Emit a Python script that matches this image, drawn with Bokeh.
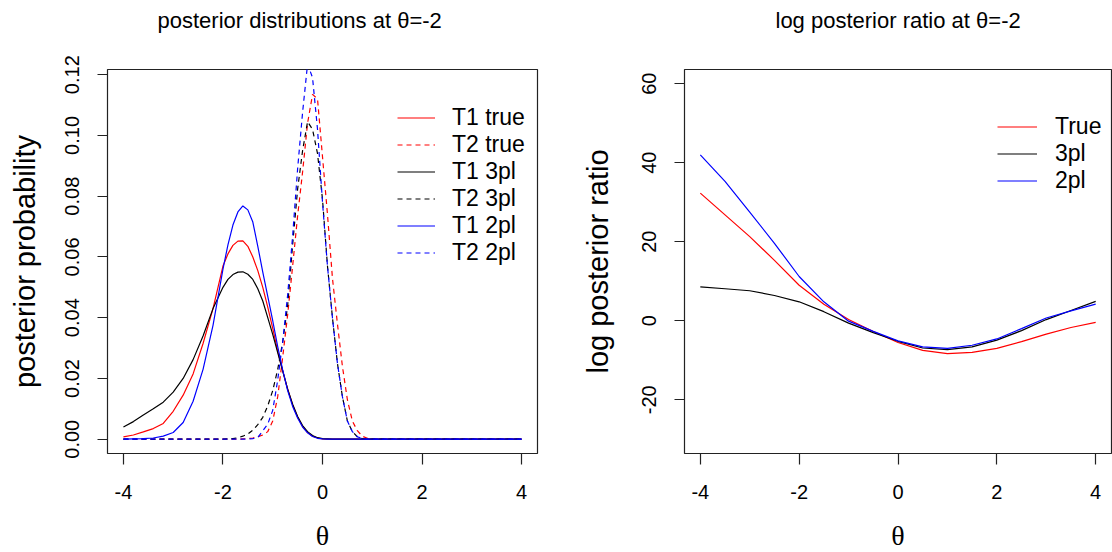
from bokeh.plotting import figure
from bokeh.layouts import row
from bokeh.models import FixedTicker, Legend, LegendItem, Range1d, Title
from bokeh.embed import file_html
from bokeh.resources import INLINE

# ---------------- data: posterior distributions ----------------
theta_post = [-4.0, -3.8, -3.6, -3.4, -3.2, -3.0, -2.8, -2.6, -2.4, -2.2,
              -2.0, -1.9, -1.8, -1.7, -1.6, -1.5, -1.4, -1.3, -1.2, -1.1,
              -1.0, -0.9, -0.8, -0.7, -0.6, -0.5, -0.4, -0.3, -0.2, -0.1,
              0.0, 0.1, 0.2, 0.3, 0.4, 0.5, 0.6, 0.7, 0.8, 0.9, 1.0,
              1.5, 2.0, 2.5, 3.0, 3.5, 4.0]

t1_true = [0.0008, 0.0014, 0.0024, 0.0035, 0.0052, 0.0092, 0.0145, 0.0215, 0.0315, 0.0430,
           0.0570, 0.0610, 0.0638, 0.0652, 0.0653, 0.0635, 0.0600, 0.0555, 0.0500, 0.0435,
           0.0365, 0.0290, 0.0225, 0.0165, 0.0113, 0.0073, 0.0042, 0.0022, 0.0010, 0.0004,
           0.0001, 0.0, 0.0, 0.0, 0.0, 0.0, 0.0, 0.0, 0.0, 0.0, 0.0,
           0.0, 0.0, 0.0, 0.0, 0.0, 0.0]

t2_true = [0.0, 0.0, 0.0, 0.0, 0.0, 0.0, 0.0, 0.0, 0.0, 0.0,
           0.0, 0.0, 0.0, 0.0, 0.0001, 0.0002, 0.0004, 0.0008, 0.0014, 0.0025,
           0.0060, 0.0140, 0.0270, 0.0410, 0.0570, 0.0735, 0.0880, 0.1040, 0.1135, 0.1120,
           0.0930, 0.0740, 0.0530, 0.0380, 0.0240, 0.0130, 0.0060, 0.0028, 0.0010, 0.0003, 0.0,
           0.0, 0.0, 0.0, 0.0, 0.0, 0.0]

t1_3pl = [0.0040, 0.0058, 0.0080, 0.0100, 0.0122, 0.0155, 0.0200, 0.0262, 0.0340, 0.0430,
          0.0500, 0.0526, 0.0542, 0.0550, 0.0551, 0.0543, 0.0526, 0.0495, 0.0455, 0.0400,
          0.0345, 0.0285, 0.0225, 0.0165, 0.0115, 0.0075, 0.0045, 0.0025, 0.0012, 0.0005,
          0.0002, 0.0001, 0.0, 0.0, 0.0, 0.0, 0.0, 0.0, 0.0, 0.0, 0.0,
          0.0, 0.0, 0.0, 0.0, 0.0, 0.0]

t2_3pl = [0.0, 0.0, 0.0, 0.0, 0.0, 0.0, 0.0, 0.0, 0.0, 0.0,
          0.0, 0.0001, 0.0002, 0.0005, 0.0010, 0.0017, 0.0030, 0.0048, 0.0072, 0.0110,
          0.0160, 0.0230, 0.0320, 0.0440, 0.0640, 0.0823, 0.0950, 0.1045, 0.1020, 0.0940,
          0.0790, 0.0570, 0.0400, 0.0250, 0.0140, 0.0060, 0.0025, 0.0008, 0.0002, 0.0, 0.0,
          0.0, 0.0, 0.0, 0.0, 0.0, 0.0]

t1_2pl = [0.0, 0.0001, 0.0002, 0.0004, 0.0010, 0.0022, 0.0055, 0.0125, 0.0230, 0.0375,
          0.0560, 0.0640, 0.0705, 0.0748, 0.0768, 0.0755, 0.0715, 0.0635, 0.0550, 0.0470,
          0.0390, 0.0305, 0.0228, 0.0160, 0.0108, 0.0070, 0.0040, 0.0021, 0.0009, 0.0003,
          0.0001, 0.0, 0.0, 0.0, 0.0, 0.0, 0.0, 0.0, 0.0, 0.0, 0.0,
          0.0, 0.0, 0.0, 0.0, 0.0, 0.0]

t2_2pl = [0.0, 0.0, 0.0, 0.0, 0.0, 0.0, 0.0, 0.0, 0.0, 0.0,
          0.0, 0.0, 0.0, 0.0, 0.0, 0.0001, 0.0002, 0.0006, 0.0028, 0.0050,
          0.0095, 0.0195, 0.0320, 0.0475, 0.0669, 0.0890, 0.1076, 0.1235, 0.1190, 0.1020,
          0.0780, 0.0570, 0.0400, 0.0250, 0.0140, 0.0060, 0.0025, 0.0008, 0.0002, 0.0, 0.0,
          0.0, 0.0, 0.0, 0.0, 0.0, 0.0]

# ---------------- data: log posterior ratio ----------------
theta_ratio = [-4.0, -3.5, -3.0, -2.5, -2.0, -1.5, -1.0, -0.5, 0.0,
               0.5, 1.0, 1.5, 2.0, 2.5, 3.0, 3.5, 4.0]
ratio_true = [32.3, 26.8, 21.3, 15.3, 9.0, 4.2, 0.3, -2.7, -5.5,
              -7.5, -8.3, -8.0, -7.0, -5.3, -3.4, -1.7, -0.4]
ratio_3pl = [8.6, 8.1, 7.6, 6.4, 4.8, 2.3, -0.6, -3.0, -5.2,
             -6.9, -7.3, -6.6, -4.9, -2.5, 0.3, 2.6, 4.9]
ratio_2pl = [42.0, 35.3, 27.5, 19.6, 11.2, 4.8, -0.1, -2.7, -5.1,
             -6.6, -7.0, -6.2, -4.6, -2.0, 0.7, 2.5, 4.2]

# ---------------- ticks and labels ----------------
x_ticks = [-4, -2, 0, 2, 4]
x_tick_labels = ["-4", "-2", "0", "2", "4"]
post_ticks = [0.0, 0.02, 0.04, 0.06, 0.08, 0.10, 0.12]
post_tick_labels = ["0.00", "0.02", "0.04", "0.06", "0.08", "0.10", "0.12"]
ratio_ticks = [-20, 0, 20, 40, 60]
ratio_tick_labels = ["-20", "0", "20", "40", "60"]

post_legend = ["T1 true", "T2 true", "T1 3pl", "T2 3pl", "T1 2pl", "T2 2pl"]
ratio_legend = ["True", "3pl", "2pl"]

SANS = "Liberation Sans"
SERIF = "Liberation Serif"
RED, BLACK, BLUE = "#FF0000", "#000000", "#0000FF"
DASH = "5 4"
LW = 1.2


def style(p, yt, yl, ylabel, ylabel_standoff, title, title_offset):
    p.outline_line_color = "#222222"
    p.outline_line_width = 1.2
    p.background_fill_color = "white"
    p.border_fill_color = "white"
    p.xgrid.visible = False
    p.ygrid.visible = False
    for ax in (p.xaxis[0], p.yaxis[0]):
        ax.axis_line_color = None
        ax.major_tick_line_color = "#222222"
        ax.major_tick_line_width = 1.2
        ax.major_tick_in = 0
        ax.minor_tick_line_color = None
        ax.major_label_text_font = SANS
        ax.major_label_text_font_size = "20px"
        ax.major_label_text_color = "black"
        ax.axis_label_text_color = "black"
    xa = p.xaxis[0]
    xa.ticker = FixedTicker(ticks=x_ticks)
    xa.major_label_overrides = dict(zip(x_ticks, x_tick_labels))
    xa.major_tick_out = 11
    xa.major_label_standoff = 20
    xa.axis_label = "θ"
    xa.axis_label_text_font = SERIF
    xa.axis_label_text_font_size = "28px"
    xa.axis_label_text_font_style = "normal"
    xa.axis_label_standoff = 18
    ya = p.yaxis[0]
    ya.ticker = FixedTicker(ticks=yt)
    ya.major_label_overrides = dict(zip(yt, yl))
    ya.major_label_orientation = "parallel"
    ya.major_tick_out = 10
    ya.major_label_standoff = 18
    ya.axis_label = ylabel
    ya.axis_label_text_font = SANS
    ya.axis_label_text_font_size = "29px"
    ya.axis_label_text_font_style = "normal"
    ya.axis_label_standoff = ylabel_standoff
    # thin invisible spacer between frame and title so the title sits higher
    p.add_layout(Title(text=" ", text_font_size="1px", standoff=34), "above")
    p.title.text = title
    p.title.align = "left"
    p.title.offset = title_offset
    p.title.vertical_align = "bottom"
    p.title.text_font = SANS
    p.title.text_font_size = "22px"
    p.title.text_font_style = "normal"
    p.title.text_color = "black"
    p.title.standoff = 0


# ---------------- left panel ----------------
p1 = figure(frame_width=430, frame_height=384,
            min_border_left=107, min_border_right=20, min_border_top=69, min_border_bottom=99,
            x_range=Range1d(-4.32, 4.32), y_range=Range1d(-0.0047, 0.1217),
            output_backend="svg", toolbar_location=None)
style(p1, post_ticks, post_tick_labels, "posterior probability", 22,
      "posterior distributions at θ=-2", 50)

r_t1_true = p1.line(theta_post, t1_true, line_color=RED, line_width=LW)
r_t2_true = p1.line(theta_post, t2_true, line_color=RED, line_width=LW, line_dash=DASH)
r_t1_3pl = p1.line(theta_post, t1_3pl, line_color=BLACK, line_width=LW)
r_t2_3pl = p1.line(theta_post, t2_3pl, line_color=BLACK, line_width=LW, line_dash=DASH)
r_t1_2pl = p1.line(theta_post, t1_2pl, line_color=BLUE, line_width=LW)
r_t2_2pl = p1.line(theta_post, t2_2pl, line_color=BLUE, line_width=LW, line_dash=DASH)

leg1 = Legend(items=[LegendItem(label=lab, renderers=[r]) for lab, r in zip(
    post_legend, [r_t1_true, r_t2_true, r_t1_3pl, r_t2_3pl, r_t1_2pl, r_t2_2pl])],
    location=(290, 187), padding=0, spacing=0, margin=0,
    glyph_width=38, glyph_height=27, label_height=27, label_standoff=17,
    label_text_font=SANS, label_text_font_size="23px", label_text_color="black",
    border_line_color=None, background_fill_alpha=0)
p1.add_layout(leg1)

# ---------------- right panel ----------------
p2 = figure(frame_width=427, frame_height=384,
            min_border_left=127, min_border_right=1, min_border_top=69, min_border_bottom=99,
            x_range=Range1d(-4.32, 4.32), y_range=Range1d(-33.6, 63.6),
            output_backend="svg", toolbar_location=None)
style(p2, ratio_ticks, ratio_tick_labels, "log posterior ratio", 26,
      "log posterior ratio at θ=-2", 91)

q_true = p2.line(theta_ratio, ratio_true, line_color=RED, line_width=LW)
q_3pl = p2.line(theta_ratio, ratio_3pl, line_color=BLACK, line_width=LW)
q_2pl = p2.line(theta_ratio, ratio_2pl, line_color=BLUE, line_width=LW)

leg2 = Legend(items=[LegendItem(label=lab, renderers=[r]) for lab, r in zip(
    ratio_legend, [q_true, q_3pl, q_2pl])],
    location=(313, 259), padding=0, spacing=0, margin=0,
    glyph_width=40, glyph_height=27, label_height=27, label_standoff=18,
    label_text_font=SANS, label_text_font_size="23px", label_text_color="black",
    border_line_color=None, background_fill_alpha=0)
p2.add_layout(leg2)

layout = row(p1, p2)
open("out.html", "w").write(file_html(layout, INLINE))
